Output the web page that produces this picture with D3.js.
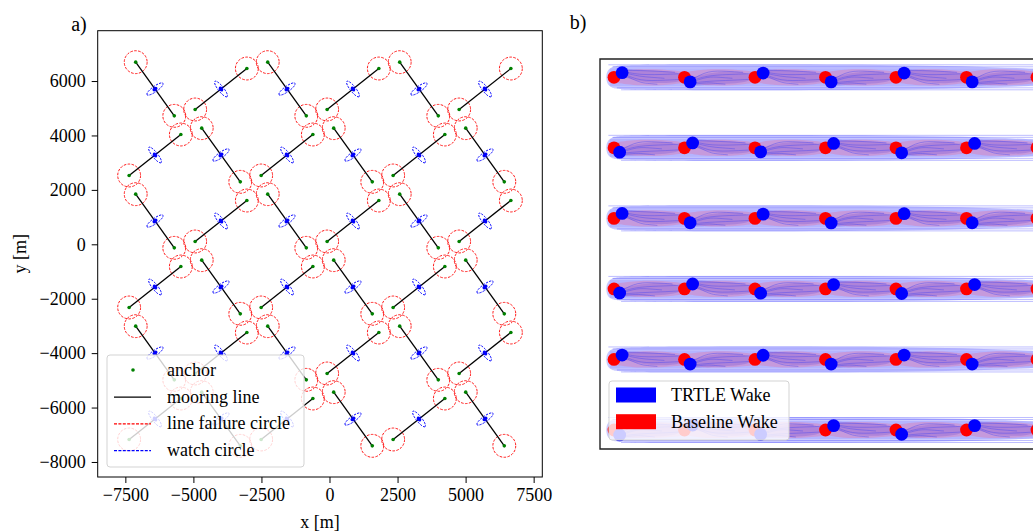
<!DOCTYPE html>
<html>
<head>
<meta charset="utf-8">
<script src="https://cdn.jsdelivr.net/npm/d3@7"></script>
<style>
  body { margin: 0; background: #fff; }
  svg text { font-family: "Liberation Serif", "Times New Roman", serif; fill: #000; }
</style>
</head>
<body>
<div id="chart"></div>
<script>
// ---------- panel a: mooring layout (metres) ----------
const turbineX = [-6411, -3986, -1561, 863, 3288, 5713];
const turbineY = [5707, 3282, 856, -1569, -3995, -6420];
// 1 = mooring line runs NW-SE, -1 = runs SW-NE
const lineDir = [
    [1, -1, 1, -1, 1, -1],
    [-1, 1, -1, 1, -1, 1],
    [1, -1, 1, -1, 1, -1],
    [-1, 1, -1, 1, -1, 1],
    [1, -1, 1, -1, 1, -1],
    [-1, 1, -1, 1, -1, 1]
];
const xTicksA = [-7500, -5000, -2500, 0, 2500, 5000, 7500];
const yTicksA = [-8000, -6000, -4000, -2000, 0, 2000, 4000, 6000];
const legendA = ['anchor', 'mooring line', 'line failure circle', 'watch circle'];

// ---------- panel b: wake field (metres) ----------
const wakeColX = [0, 1000, 2000, 3000, 4000, 5000, 6000];
const wakeRowY = [5000, 4000, 3000, 2000, 1000, 0];
// TRTLE turbine displacement from baseline, per row (dy in m)
const trtleDy = [
    [65, -65, 60, -65, 60, -65, 60],
    [-62, 70, -57, 62, -70, 62, -62],
    [70, -62, 60, -65, 67, -62, 60],
    [-57, 70, -60, 62, -65, 62, -62],
    [62, -65, 60, -65, 62, -65, 60],
    [-70, 70, -62, 62, -60, 62, -62]
];
const legendB = ['TRTLE Wake', 'Baseline Wake'];

const W = 1033, H = 532;
const svg = d3.select('#chart').append('svg')
    .attr('width', W).attr('height', H)
    .attr('viewBox', '0 0 ' + W + ' ' + H);

const fmt = d => d < 0 ? '\u2212' + Math.abs(d) : String(d);

// ===================== panel a =====================
const ax = { left: 97.7, right: 542.3, top: 30.7, bottom: 477 };
const x = d3.scaleLinear().domain([-8516, 7818]).range([ax.left, ax.right]);
const y = d3.scaleLinear().domain([-8552, 7850]).range([ax.bottom, ax.top]);
const k = x(1000) - x(0); // px per km

// anchors, lines, watch circles built from the grid
const moorings = [];
turbineY.forEach(function(ty, j) {
    turbineX.forEach(function(tx, i) {
        const dir = lineDir[j][i];
        const h = dir === 1 ? [-709, 987] : [-950, -753];
        moorings.push({
            tx: tx, ty: ty,
            a1: [tx + h[0], ty + h[1]],
            a2: [tx - h[0], ty - h[1]]
        });
    });
});
const anchors = [];
moorings.forEach(m => { anchors.push(m.a1); anchors.push(m.a2); });

const gA = svg.append('g').attr('class', 'panel-a');
gA.append('defs').append('clipPath').attr('id', 'clipA')
    .append('rect').attr('x', ax.left).attr('y', ax.top)
    .attr('width', ax.right - ax.left).attr('height', ax.bottom - ax.top);
const plotA = gA.append('g').attr('clip-path', 'url(#clipA)');

plotA.selectAll('circle.fail')
    .data(anchors)
    .join('circle')
    .attr('class', 'fail')
    .attr('cx', d => x(d[0]))
    .attr('cy', d => y(d[1]))
    .attr('r', 0.42 * k)
    .attr('fill', 'none')
    .attr('stroke', 'red')
    .attr('stroke-width', 0.9)
    .attr('stroke-dasharray', '2.6,1.4');

plotA.selectAll('line.moor')
    .data(moorings)
    .join('line')
    .attr('class', 'moor')
    .attr('x1', d => x(d.a1[0])).attr('y1', d => y(d.a1[1]))
    .attr('x2', d => x(d.a2[0])).attr('y2', d => y(d.a2[1]))
    .attr('stroke', '#000')
    .attr('stroke-width', 1.3);

plotA.selectAll('circle.anchor')
    .data(anchors)
    .join('circle')
    .attr('class', 'anchor')
    .attr('cx', d => x(d[0]))
    .attr('cy', d => y(d[1]))
    .attr('r', 1.8)
    .attr('fill', 'green');

// watch circles: ellipse long axis perpendicular to the mooring line
const watch = plotA.selectAll('g.watch')
    .data(moorings)
    .join('g')
    .attr('class', 'watch')
    .attr('transform', function(d) {
        const ang = Math.atan2(y(d.a2[1]) - y(d.a1[1]), x(d.a2[0]) - x(d.a1[0])) * 180 / Math.PI + 90;
        return 'translate(' + x(d.tx) + ',' + y(d.ty) + ') rotate(' + ang + ')';
    });
watch.append('ellipse')
    .attr('rx', 0.36 * k).attr('ry', 0.1 * k)
    .attr('fill', 'none')
    .attr('stroke', 'blue')
    .attr('stroke-width', 0.9)
    .attr('stroke-dasharray', '2.2,1.2');
watch.append('ellipse')
    .attr('rx', 2.8).attr('ry', 1.9)
    .attr('fill', 'blue');

// axes
gA.append('rect')
    .attr('x', ax.left).attr('y', ax.top)
    .attr('width', ax.right - ax.left).attr('height', ax.bottom - ax.top)
    .attr('fill', 'none').attr('stroke', '#000').attr('stroke-width', 1);

const xAxis = gA.append('g')
    .attr('transform', 'translate(0,' + ax.bottom + ')')
    .call(d3.axisBottom(x).tickValues(xTicksA).tickFormat(fmt).tickSize(6).tickPadding(5));
const yAxis = gA.append('g')
    .attr('transform', 'translate(' + ax.left + ',0)')
    .call(d3.axisLeft(y).tickValues(yTicksA).tickFormat(fmt).tickSize(6).tickPadding(6));
[xAxis, yAxis].forEach(function(a) {
    a.attr('font-family', '"Liberation Serif", serif').attr('font-size', 18);
    a.select('.domain').remove();
    a.selectAll('text').attr('font-size', 18)
        .style('font-family', '"Liberation Serif", "Times New Roman", serif');
    a.selectAll('line').attr('stroke', '#000').attr('stroke-width', 1);
});

gA.append('text')
    .attr('x', (ax.left + ax.right) / 2).attr('y', 528)
    .attr('text-anchor', 'middle').attr('font-size', 18)
    .text('x [m]');
gA.append('text')
    .attr('transform', 'translate(26,' + ((ax.top + ax.bottom) / 2) + ') rotate(-90)')
    .attr('text-anchor', 'middle').attr('font-size', 18)
    .text('y [m]');
gA.append('text')
    .attr('x', 79).attr('y', 31)
    .attr('text-anchor', 'middle').attr('font-size', 20)
    .text('a)');

// legend a
const legA = gA.append('g').attr('transform', 'translate(107,355)');
legA.append('rect')
    .attr('width', 197).attr('height', 112).attr('rx', 3)
    .attr('fill', 'rgba(255,255,255,0.8)')
    .attr('stroke', '#d3d3d3').attr('stroke-width', 1);
legendA.forEach(function(label, i) {
    const cy = 15 + i * 26.7;
    const row = legA.append('g').attr('transform', 'translate(0,' + cy + ')');
    if (i === 0) {
        row.append('circle').attr('cx', 26).attr('cy', 0).attr('r', 1.8).attr('fill', 'green');
    } else {
        const colours = [null, '#000', 'red', 'blue'];
        row.append('line')
            .attr('x1', 7).attr('x2', 44).attr('y1', 0.5).attr('y2', 0.5)
            .attr('stroke', colours[i])
            .attr('stroke-width', i === 1 ? 1.3 : 1.2)
            .attr('stroke-dasharray', i === 1 ? null : '3,1.4');
    }
    row.append('text')
        .attr('x', 60).attr('y', 6)
        .attr('font-size', 18)
        .text(label);
});

// ===================== panel b =====================
const bx0 = { left: 600, top: 59, bottom: 449, right: 1100 };
const bx = d3.scaleLinear().domain([0, 6000]).range([614, 1037]);
const by = d3.scaleLinear().domain([0, 5000]).range([430, 77.3]);
const m = bx(1000) - bx(0);

const gB = svg.append('g').attr('class', 'panel-b');
gB.append('defs').append('clipPath').attr('id', 'clipB')
    .append('rect').attr('x', bx0.left).attr('y', bx0.top)
    .attr('width', bx0.right - bx0.left).attr('height', bx0.bottom - bx0.top);
const plotB = gB.append('g').attr('clip-path', 'url(#clipB)');

const lineGen = d3.line().curve(d3.curveBasis);

wakeRowY.forEach(function(ry, r) {
    const cy = by(ry);
    const row = plotB.append('g').attr('class', 'wake-row');
    // outer envelope of the TRTLE wakes
    row.append('path')
        .attr('d', lineGen([[bx(-110), cy], [bx(-90), cy - 12], [bx(300), cy - 13], [bx(7000), cy - 13],
                            [bx(7000), cy + 13], [bx(300), cy + 13], [bx(-90), cy + 12], [bx(-110), cy]]))
        .attr('fill', 'rgba(70,70,255,0.29)');
    row.append('rect')
        .attr('x', bx(-60)).attr('y', cy - 9).attr('width', 600).attr('height', 18)
        .attr('fill', 'rgba(60,60,255,0.14)');
    // thin boundary strokes
    [-12.5, -10.5, 10.5, 12.5].forEach(function(o, n) {
        row.append('line')
            .attr('x1', bx(-80 + n * 60)).attr('x2', bx(7000))
            .attr('y1', cy + o).attr('y2', cy + o)
            .attr('stroke', 'rgba(40,40,255,0.3)').attr('stroke-width', 1);
    });
    wakeColX.forEach(function(cx, c) {
        const px = bx(cx);
        // baseline wake lens
        row.append('path')
            .attr('d', lineGen([[px, cy - 5], [px + 0.35 * m, cy - 9], [px + 0.9 * m, cy - 7], [px + 1.1 * m, cy - 4],
                                [px + 1.1 * m, cy + 4], [px + 0.9 * m, cy + 7], [px + 0.35 * m, cy + 9], [px, cy + 5]]))
            .attr('fill', 'rgba(255,70,110,0.24)');
        // TRTLE wake core
        const d = trtleDy[r][c];
        const tx = px + (d > 0 ? 0.115 : 0.08) * m;
        const ty = by(ry + d);
        row.append('path')
            .attr('d', lineGen([[tx, ty - 4], [tx + 0.4 * m, cy - 7], [tx + 0.9 * m, cy - 5], [tx + 0.9 * m, cy + 5],
                                [tx + 0.4 * m, cy + 7], [tx, ty + 4]]))
            .attr('fill', 'rgba(90,50,210,0.22)');
        // wake contour strokes
        [[-6, 0.75], [-3, 0.95], [0, 0.6], [3, 0.85], [6, 0.5]].forEach(function(s, n) {
            const yy = cy + s[0];
            row.append('path')
                .attr('d', lineGen([[tx + 2, ty + s[0] * 0.4], [tx + 0.25 * m, yy + (n % 2 ? 0.8 : -0.8)],
                                    [tx + s[1] * m * 0.7, yy], [tx + s[1] * m, yy + (n % 2 ? -1 : 1)]]))
                .attr('fill', 'none')
                .attr('stroke', 'rgba(70,70,240,0.42)')
                .attr('stroke-width', 1);
        });
    });
    // turbines: baseline (red) under TRTLE (blue)
    row.selectAll('circle.base')
        .data(wakeColX)
        .join('circle')
        .attr('class', 'base')
        .attr('cx', d => bx(d)).attr('cy', cy)
        .attr('r', 6.4).attr('fill', 'red');
    row.selectAll('circle.trtle')
        .data(wakeColX)
        .join('circle')
        .attr('class', 'trtle')
        .attr('cx', (d, c) => bx(d) + (trtleDy[r][c] > 0 ? 0.115 : 0.08) * m)
        .attr('cy', (d, c) => by(ry + trtleDy[r][c]))
        .attr('r', 6.4).attr('fill', 'blue');
});

gB.append('path')
    .attr('d', 'M' + bx0.right + ',' + bx0.top + 'H' + bx0.left + 'V' + bx0.bottom + 'H' + bx0.right)
    .attr('fill', 'none').attr('stroke', '#222').attr('stroke-width', 1.4);

gB.append('text')
    .attr('x', 578).attr('y', 29)
    .attr('text-anchor', 'middle').attr('font-size', 20)
    .text('b)');

// legend b
const legB = gB.append('g').attr('transform', 'translate(609,381)');
legB.append('rect')
    .attr('width', 180).attr('height', 59).attr('rx', 3)
    .attr('fill', 'rgba(255,255,255,0.8)')
    .attr('stroke', '#d3d3d3').attr('stroke-width', 1);
legendB.forEach(function(label, i) {
    const row = legB.append('g').attr('transform', 'translate(0,' + (14 + i * 26.7) + ')');
    row.append('rect')
        .attr('x', 7).attr('y', -7.5).attr('width', 40).attr('height', 15)
        .attr('fill', i === 0 ? 'blue' : 'red');
    row.append('text')
        .attr('x', 62).attr('y', 6)
        .attr('font-size', 18)
        .text(label);
});
</script>
</body>
</html>
